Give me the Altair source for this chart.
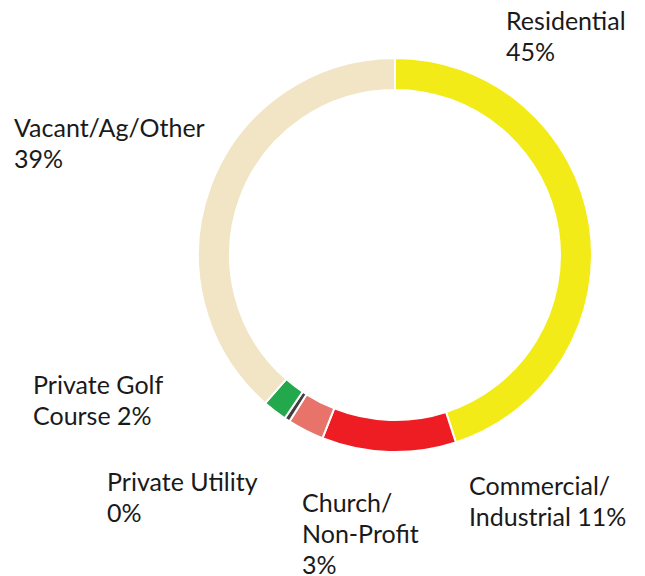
import altair as alt
import pandas as pd

categories = ["Residential", "Commercial/Industrial", "Church/Non-Profit",
              "Private Utility", "Private Golf Course", "Vacant/Ag/Other"]
values = [45, 11, 3, 0.45, 2, 38.55]
colors = ["#F3EB17", "#EE1D24", "#E8736B", "#3F3F3F", "#23A84B", "#F1E5C6"]
label_lines = [
    ["Residential", "45%"],
    ["Commercial/", "Industrial 11%"],
    ["Church/", "Non-Profit", "3%"],
    ["Private Utility", "0%"],
    ["Private Golf", "Course 2%"],
    ["Vacant/Ag/Other", "39%"],
]
# label anchor (left x, first baseline y) in chart pixels
label_pos = [(498, 22), (461, 487), (294, 504), (99, 483), (25, 386), (6, 129)]

df = pd.DataFrame({"category": categories, "value": values, "idx": range(len(categories))})

CX, CY = 387, 247

donut = alt.Chart(df).mark_arc(
    outerRadius=197, innerRadius=165, stroke="white", strokeWidth=2
).encode(
    theta=alt.Theta("value:Q", stack=True),
    order=alt.Order("idx:Q"),
    color=alt.Color("category:N",
                    scale=alt.Scale(domain=categories, range=colors),
                    legend=None),
    x=alt.value(CX),
    y=alt.value(CY),
)

layers = [donut]
for lines, (lx, ly) in zip(label_lines, label_pos):
    layers.append(
        alt.Chart(df.head(1)).mark_text(
            align="left", baseline="alphabetic", font="Lato", fontSize=25,
            lineHeight=31, color="#1a1a1a", text=lines
        ).encode(x=alt.value(lx), y=alt.value(ly))
    )

chart = alt.layer(*layers).properties(
    width=629, height=568, autosize=alt.AutoSizeParams(type="none"), padding=0
).configure_view(strokeWidth=0)

chart.save("out.html", embed_options={"renderer": "svg", "actions": False})
